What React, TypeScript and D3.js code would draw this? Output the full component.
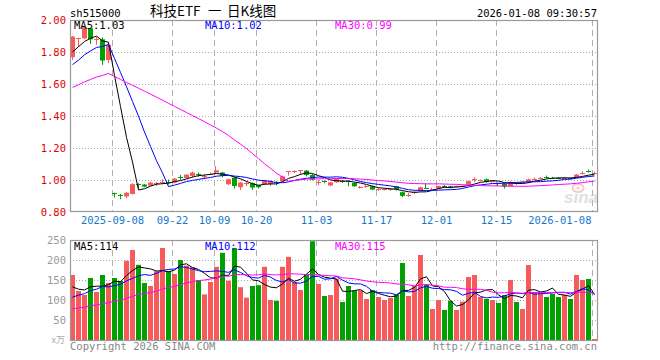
import React from 'react';
import * as d3 from 'd3';

// ---------- data ----------
const tickIndex = [7, 17, 24, 31, 41, 51, 61, 71, 87];
const tickLabels = ['2025-09-08', '09-22', '10-09', '10-20', '11-03', '11-17', '12-01', '12-15', '2026-01-08'];
const priceTicks = [2.0, 1.8, 1.6, 1.4, 1.2, 1.0, 0.8];
const volTicks = [250, 200, 150, 100, 50];
const priceLegend = ['MA5:1.03', 'MA10:1.02', 'MA30:0.99'];
const volLegend = ['MA5:114', 'MA10:112', 'MA30:115'];
const titleParts = ['科技ETF', '一', '日K线图'];

// closes before the first visible candle (feed the moving averages)
const priorCloses = [1.40, 1.41, 1.42, 1.43, 1.45, 1.46, 1.47, 1.48, 1.49, 1.50, 1.51, 1.52, 1.53, 1.55, 1.56, 1.57, 1.58, 1.59, 1.60, 1.62,
  1.60, 1.62, 1.64, 1.66, 1.68, 1.721, 1.794, 1.777, 1.812];
const priorVolumes = [55, 60, 52, 58, 65, 62, 57, 60, 66, 63, 58, 70, 64, 61, 68, 66, 72, 65, 70, 78, 70, 75, 80, 85, 95, 152, 122, 115, 113];

const opens = [1.767, 1.883, 1.885, 1.948, 1.878, 1.879, 1.75, 0.917, 0.905, 0.894,
  0.91, 0.971, 0.969, 0.962, 0.978, 0.983, 0.987, 0.981, 1.016, 1.010,
  1.023, 1.033, 1.021, 1.033, 1.044, 1.044, 0.971, 1.012, 0.952, 0.975,
  0.977, 0.965, 0.971, 0.972, 0.985, 0.99, 1.050, 1.05, 1.055, 1.056,
  1.029, 0.984, 0.993, 0.963, 0.983, 0.992, 0.992, 0.979, 0.953, 0.956,
  0.958, 0.936, 0.938, 0.937, 0.958, 0.921, 0.90, 0.918, 0.927, 0.946,
  0.942, 0.944, 0.96, 0.958, 0.957, 0.958, 0.969, 1.002, 0.998, 1.002,
  0.988, 0.976, 0.973, 0.958, 0.977, 0.983, 0.985, 1.005, 1.01, 1.016,
  1.012, 1.011, 1.009, 1.008, 1.015, 1.04, 1.053, 1.040];
const highs = [1.90, 1.888, 1.958, 1.952, 1.894, 1.892, 1.86, 0.918, 0.91, 0.923,
  0.977, 0.977, 0.973, 0.985, 0.985, 1.002, 1.0, 1.01, 1.029, 1.035,
  1.05, 1.044, 1.033, 1.044, 1.085, 1.048, 1.006, 1.017, 0.985, 0.99,
  0.981, 0.968, 0.998, 0.995, 0.99, 1.025, 1.053, 1.058, 1.06, 1.06,
  1.035, 0.998, 0.994, 0.986, 1.008, 0.998, 0.995, 0.983, 0.96, 0.965,
  0.962, 0.946, 0.946, 0.944, 0.96, 0.925, 0.915, 0.928, 0.956, 0.977,
  0.95, 0.962, 0.965, 0.962, 0.963, 0.965, 0.994, 1.015, 1.001, 1.006,
  0.995, 0.98, 0.977, 0.99, 0.98, 0.99, 1.006, 1.012, 1.017, 1.025,
  1.017, 1.015, 1.015, 1.012, 1.035, 1.052, 1.063, 1.05];
const lows = [1.75, 1.833, 1.88, 1.85, 1.844, 1.719, 1.73, 0.888, 0.877, 0.883,
  0.906, 0.944, 0.952, 0.96, 0.96, 0.971, 0.969, 0.977, 0.998, 1.006,
  1.013, 1.017, 1.002, 1.027, 1.035, 1.013, 0.965, 0.944, 0.935, 0.96,
  0.935, 0.944, 0.965, 0.96, 0.965, 0.985, 1.025, 1.04, 1.03, 1.02,
  0.995, 0.965, 0.977, 0.958, 0.98, 0.98, 0.958, 0.954, 0.944, 0.948,
  0.933, 0.93, 0.932, 0.93, 0.93, 0.89, 0.89, 0.91, 0.925, 0.942,
  0.935, 0.94, 0.95, 0.945, 0.95, 0.952, 0.965, 0.985, 0.988, 0.98,
  0.98, 0.96, 0.944, 0.955, 0.968, 0.978, 0.98, 1.0, 1.002, 1.008,
  1.005, 1.004, 1.004, 1.0, 1.012, 1.033, 1.044, 1.035];
const closes = [1.896, 1.886, 1.954, 1.879, 1.880, 1.746, 1.844, 0.915, 0.902, 0.917,
  0.971, 0.968, 0.956, 0.981, 0.980, 0.986, 0.984, 1.006, 1.013, 1.031,
  1.044, 1.030, 1.023, 1.036, 1.058, 1.023, 1.002, 0.96, 0.981, 0.977,
  0.95, 0.952, 0.994, 0.99, 0.98, 1.02, 1.052, 1.052, 1.058, 1.029,
  1.0, 0.986, 0.99, 0.983, 1.004, 0.99, 0.985, 0.958, 0.955, 0.958,
  0.9375, 0.938, 0.94, 0.939, 0.94, 0.898, 0.902, 0.921, 0.952, 0.944,
  0.944, 0.96, 0.958, 0.948, 0.958, 0.96, 0.99, 1.004, 1.0, 0.985,
  0.99, 0.975, 0.956, 0.985, 0.975, 0.985, 1.002, 1.006, 1.012, 1.015,
  1.01, 1.01, 1.01, 1.006, 1.031, 1.042, 1.05, 1.041];
const volumes = [162.5, 122.5, 112.5, 155, 120, 162.5, 142.5, 155, 147.5, 198,
  225, 188, 142.5, 135, 172, 230, 172, 165, 200, 186,
  182, 150, 114, 145, 183, 218, 148, 230, 132, 106,
  135, 137, 183, 100, 98, 183, 208, 145, 125, 163,
  247, 140, 110, 112.5, 153, 95, 135, 123, 124, 102.5,
  125, 107.5, 100, 105, 113, 192.5, 110, 136, 212.5, 140,
  77.5, 100, 75, 97.5, 75, 96, 157.5, 162.5, 107.5, 102.5,
  100, 92.5, 112.5, 150, 95, 77.5, 187.5, 120, 120, 107.5,
  115, 107.5, 112.5, 102.5, 162.5, 150, 152.5, 2.5];

// ---------- helpers ----------
const RED = '#f65a5a';
const GREEN = '#00a000';
const MONO = '"DejaVu Sans Mono", "Liberation Mono", monospace';
const CJK = '"Noto Sans CJK SC", sans-serif';

function movingAvg(prior: number[], vals: number[], n: number): number[] {
  const all = prior.concat(vals);
  const P = prior.length;
  return vals.map((_, i) => {
    const end = i + P;
    const start = Math.max(0, end - n + 1);
    const slice = all.slice(start, end + 1);
    return d3.mean(slice) as number;
  });
}

export default function App() {
  const N = closes.length;
  const L = 70, R = 597;
  const pTop = 20, pBot = 211;
  const vTop = 240, vBot = 340;

  const x = d3.scaleLinear().domain([0, N]).range([L, L + 6 * N]);
  const bw = x(1) - x(0) - 1;
  const cx = (i: number) => x(i) + 2.5;
  const yP = d3.scaleLinear().domain([0.8, 2.0]).range([211.5, 20]);
  const yV = d3.scaleLinear().domain([0, 250]).range([vBot, vTop]);

  const pMA = [5, 10, 30].map((n) => movingAvg(priorCloses, closes, n));
  const vMA = [5, 10, 30].map((n) => movingAvg(priorVolumes, volumes, n));
  const maColors = ['#000000', '#0000ff', '#ff00ff'];
  const lineP = d3.line<number>().x((_, i) => cx(i)).y((v) => yP(v));
  const lineV = d3.line<number>().x((_, i) => cx(i)).y((v) => yV(v));

  const gridX = tickIndex.map((k) => Math.round(x(k)) + 0.5);
  const titleX = [150, 208, 227];

  return (
    <svg width={660} height={360} style={{ position: 'absolute', left: 0, top: 0, background: '#fff' }}>
      <defs>
        <clipPath id="clipP"><rect x={L} y={pTop} width={R - L} height={pBot - pTop} /></clipPath>
        <clipPath id="clipV"><rect x={L} y={vTop} width={R - L} height={vBot - vTop} /></clipPath>
      </defs>

      {/* header */}
      <text x={70} y={17} fontFamily={MONO} fontSize={10.5} fill="#000">sh515000</text>
      {titleParts.map((t, i) => (
        <text key={'tt' + i} x={titleX[i]} y={15.5} fontFamily={CJK} fontSize={13.5} fill="#000">{t}</text>
      ))}
      <text x={597} y={17} fontFamily={MONO} fontSize={10.5} fill="#000" textAnchor="end">2026-01-08 09:30:57</text>

      {/* price grid */}
      {priceTicks.slice(1, -1).map((t) => (
        <line key={'pg' + t} x1={L} x2={R + 1} y1={Math.round(yP(t)) + 0.5} y2={Math.round(yP(t)) + 0.5} stroke="#aaa" strokeDasharray="1,2" />
      ))}
      {gridX.map((gx, i) => (
        <line key={'pv' + i} x1={gx} x2={gx} y1={pTop} y2={pBot} stroke="#b0b0b0" strokeDasharray="6,4" />
      ))}
      {/* volume grid */}
      {volTicks.slice(1).map((t) => (
        <line key={'vg' + t} x1={L} x2={R + 1} y1={Math.round(yV(t)) + 0.5} y2={Math.round(yV(t)) + 0.5} stroke="#aaa" strokeDasharray="1,2" />
      ))}
      {gridX.map((gx, i) => (
        <line key={'vv' + i} x1={gx} x2={gx} y1={vTop} y2={vBot} stroke="#b0b0b0" strokeDasharray="6,4" />
      ))}

      {/* watermark */}
      <g opacity={0.55}>
        <ellipse cx={578} cy={188} rx={5.5} ry={4} fill="none" stroke="#f0a0a0" strokeWidth={2} />
        <circle cx={578} cy={188} r={1.6} fill="#f0a0a0" />
        <text x={581} y={203} fontFamily="Liberation Sans, sans-serif" fontStyle="italic" fontWeight="bold" fontSize={17} fill="#c8c8c8" textAnchor="middle">sina</text>
      </g>

      {/* candles */}
      <g>
        {closes.map((c, i) => {
          const o = opens[i];
          const up = c >= o;
          const col = up ? RED : GREEN;
          const top = yP(Math.max(o, c));
          const bot = yP(Math.min(o, c));
          const h = Math.max(1, bot - top);
          const wx = Math.round(cx(i)) - 0.5;
          return (
            <g key={'c' + i}>
              <line x1={wx} x2={wx} y1={yP(highs[i])} y2={yP(lows[i])} stroke={col} strokeWidth={1} />
              <rect x={x(i)} y={h <= 1 ? Math.round(top) : top} width={bw} height={h} fill={col} />
            </g>
          );
        })}
      </g>

      {/* price MAs */}
      <g clipPath="url(#clipP)">
        {pMA.map((arr, k) => (
          <path key={'pm' + k} d={lineP(arr) || ''} fill="none" stroke={maColors[k]} strokeWidth={1} />
        ))}
      </g>

      {/* volume bars */}
      <g>
        {volumes.map((v, i) => (
          <rect key={'v' + i} x={x(i)} y={yV(v)} width={bw} height={Math.max(1, vBot - yV(v))} fill={closes[i] >= opens[i] ? RED : GREEN} />
        ))}
      </g>
      <g clipPath="url(#clipV)">
        {vMA.map((arr, k) => (
          <path key={'vm' + k} d={lineV(arr) || ''} fill="none" stroke={maColors[k]} strokeWidth={1} />
        ))}
      </g>

      {/* frames */}
      <rect x={L + 0.5} y={pTop + 0.5} width={R - L} height={pBot - pTop} fill="none" stroke="#999" strokeWidth={1.2} />
      <rect x={L + 0.5} y={vTop + 0.5} width={R - L} height={vBot - vTop} fill="none" stroke="#999" strokeWidth={1.2} />

      {/* legends */}
      {priceLegend.map((t, k) => (
        <text key={'pl' + k} x={[74, 205, 335][k]} y={29} fontFamily={MONO} fontSize={10.5} fill={maColors[k]}>{t}</text>
      ))}
      {volLegend.map((t, k) => (
        <text key={'vl' + k} x={[74, 205, 335][k]} y={250} fontFamily={MONO} fontSize={10.5} fill={maColors[k]}>{t}</text>
      ))}

      {/* price axis labels */}
      {priceTicks.map((t) => (
        <text key={'pt' + t} x={66} y={yP(t) + 4} fontFamily={MONO} fontSize={10.5} fill="#e00000" textAnchor="end">{t.toFixed(2)}</text>
      ))}
      {/* volume axis labels */}
      {volTicks.map((t) => (
        <text key={'vt' + t} x={66} y={yV(t) + 4} fontFamily={MONO} fontSize={10.5} fill="#999" textAnchor="end">{t}</text>
      ))}
      <text x={65} y={343} fontFamily={CJK} fontSize={9} fill="#aaa" textAnchor="end">x万</text>

      {/* date labels */}
      {tickIndex.map((k, i) => (
        <text key={'dl' + i} x={i === tickIndex.length - 1 ? gridX[i] - 1 : gridX[i]} y={224}
          fontFamily={MONO} fontSize={10.5} fill="#1577c9" textAnchor={i === tickIndex.length - 1 ? 'end' : 'middle'}>{tickLabels[i]}</text>
      ))}

      {/* footer */}
      <text x={70} y={350} fontFamily={MONO} fontSize={10.5} fill="#888">Copyright 2026 SINA.COM</text>
      <text x={597} y={350} fontFamily={MONO} fontSize={10.5} fill="#888" textAnchor="end">http://finance.sina.com.cn</text>
    </svg>
  );
}
